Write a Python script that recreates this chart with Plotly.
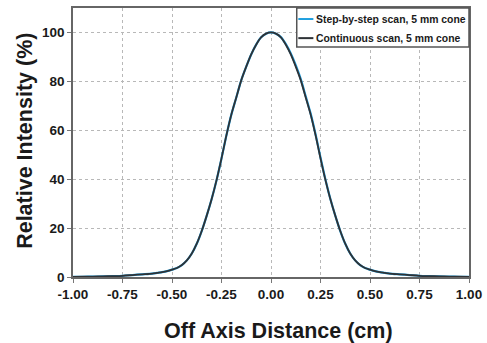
import plotly.graph_objects as go

x_cm = [-1.00, -0.95, -0.90, -0.85, -0.80, -0.75, -0.70, -0.65,
        -0.600, -0.575, -0.550, -0.525, -0.500, -0.475, -0.450, -0.425,
        -0.400, -0.375, -0.350, -0.325, -0.300, -0.275, -0.250, -0.225,
        -0.200, -0.175, -0.150, -0.125, -0.100, -0.075, -0.050, -0.025,
        0.000,
        0.025, 0.050, 0.075, 0.100, 0.125, 0.150, 0.175, 0.200,
        0.225, 0.250, 0.275, 0.300, 0.325, 0.350, 0.375, 0.400,
        0.425, 0.450, 0.475, 0.500, 0.525, 0.550, 0.575, 0.600,
        0.65, 0.70, 0.75, 0.80, 0.85, 0.90, 0.95, 1.00]

step_scan = [0.05, 0.1, 0.15, 0.25, 0.35, 0.5, 0.8, 1.1,
             1.4, 1.7, 2.0, 2.4, 3.0, 3.7, 4.9, 6.8,
             9.6, 13.6, 18.8, 25.0, 31.8, 39.6, 48.5, 58.0,
             66.5, 73.5, 80.5, 86.0, 91.0, 95.0, 98.0, 99.5,
             100.0,
             99.5, 98.1, 95.2, 91.4, 86.6, 81.0, 74.0, 66.9,
             58.4, 48.9, 39.9, 31.9, 25.0, 18.8, 13.6, 9.6,
             6.8, 4.9, 3.7, 3.0, 2.4, 2.0, 1.7, 1.4,
             1.1, 0.8, 0.5, 0.35, 0.25, 0.15, 0.1, 0.05]

cont_scan = [0.05, 0.1, 0.15, 0.25, 0.35, 0.5, 0.8, 1.1,
             1.4, 1.7, 2.0, 2.4, 3.0, 3.7, 4.9, 6.8,
             9.6, 13.6, 18.8, 25.0, 31.8, 39.6, 48.5, 58.0,
             66.5, 73.5, 80.5, 86.0, 91.0, 95.0, 98.0, 99.5,
             100.0,
             99.5, 98.0, 95.0, 91.0, 86.0, 80.5, 73.5, 66.5,
             58.0, 48.5, 39.6, 31.8, 25.0, 18.8, 13.6, 9.6,
             6.8, 4.9, 3.7, 3.0, 2.4, 2.0, 1.7, 1.4,
             1.1, 0.8, 0.5, 0.35, 0.25, 0.15, 0.1, 0.05]

series_names = ["Step-by-step scan, 5 mm cone", "Continuous scan, 5 mm cone"]
series_colors = ["#1f9fdf", "#2e3236"]

x_ticks = [-1.00, -0.75, -0.50, -0.25, 0.00, 0.25, 0.50, 0.75, 1.00]
y_ticks = [0, 20, 40, 60, 80, 100]

x_title = "Off Axis Distance (cm)"
y_title = "Relative Intensity (%)"

fig = go.Figure()
fig.add_trace(go.Scatter(x=x_cm, y=step_scan, mode="lines",
                         name=series_names[0], showlegend=False,
                         line=dict(color=series_colors[0], width=2.2, shape="spline", smoothing=0.8)))
fig.add_trace(go.Scatter(x=x_cm, y=cont_scan, mode="lines",
                         name=series_names[1], showlegend=False,
                         line=dict(color=series_colors[1], width=1.8, shape="spline", smoothing=0.8)))

# Manual legend box (paper coordinates of the plot area)
fig.add_shape(type="rect", xref="paper", yref="paper",
              x0=0.565, x1=1.0, y0=0.855, y1=1.0,
              line=dict(color="#555555", width=1.5), fillcolor="white", layer="above")
legend_rows_y = [0.959, 0.888]
for name, color, yy in zip(series_names, series_colors, legend_rows_y):
    fig.add_shape(type="line", xref="paper", yref="paper",
                  x0=0.569, x1=0.607, y0=yy, y1=yy,
                  line=dict(color=color, width=2), layer="above")
    fig.add_annotation(xref="paper", yref="paper", x=0.609, y=yy,
                       xanchor="left", yanchor="middle", showarrow=False,
                       text=name,
                       font=dict(size=10.4, weight="bold", color="#1a1a1a"))

# Axis titles as annotations for exact placement
fig.add_annotation(xref="paper", yref="paper", x=0.518, y=-0.20,
                   xanchor="center", yanchor="middle", showarrow=False,
                   text=x_title, font=dict(size=21.5, weight="bold", color="#1a1a1a"))
fig.add_annotation(xref="paper", yref="paper", x=-0.122, y=0.505,
                   xanchor="center", yanchor="middle", showarrow=False, textangle=-90,
                   text=y_title, font=dict(size=21.5, weight="bold", color="#1a1a1a"))

font_family = "Liberation Sans, Arial, sans-serif"
grid = dict(showgrid=True, gridcolor="#b8b8b8", griddash="dot", gridwidth=1)

fig.update_layout(
    width=487, height=343,
    margin=dict(l=73, r=18, t=8, b=66),
    paper_bgcolor="white", plot_bgcolor="white",
    font=dict(family=font_family, color="#1a1a1a"),
    showlegend=False,
    xaxis=dict(range=[-1, 1], tickvals=x_ticks,
               ticktext=[f"{v:.2f}" for v in x_ticks],
               tickfont=dict(size=13.5, weight="bold"),
               ticks="outside", ticklen=4, tickcolor="#777777",
               showline=True, linecolor="#666666", linewidth=1.5, mirror=True,
               zeroline=False, automargin=False,
               **grid),
    yaxis=dict(range=[0, 110], tickvals=y_ticks,
               tickfont=dict(size=13.5, weight="bold"),
               ticks="outside", ticklen=4, tickcolor="#777777",
               showline=True, linecolor="#666666", linewidth=1.5, mirror=True,
               zeroline=False, automargin=False,
               **grid),
)

fig.write_html("out.html", config={"displayModeBar": False},
               post_script="document.body.style.margin='0px';")
